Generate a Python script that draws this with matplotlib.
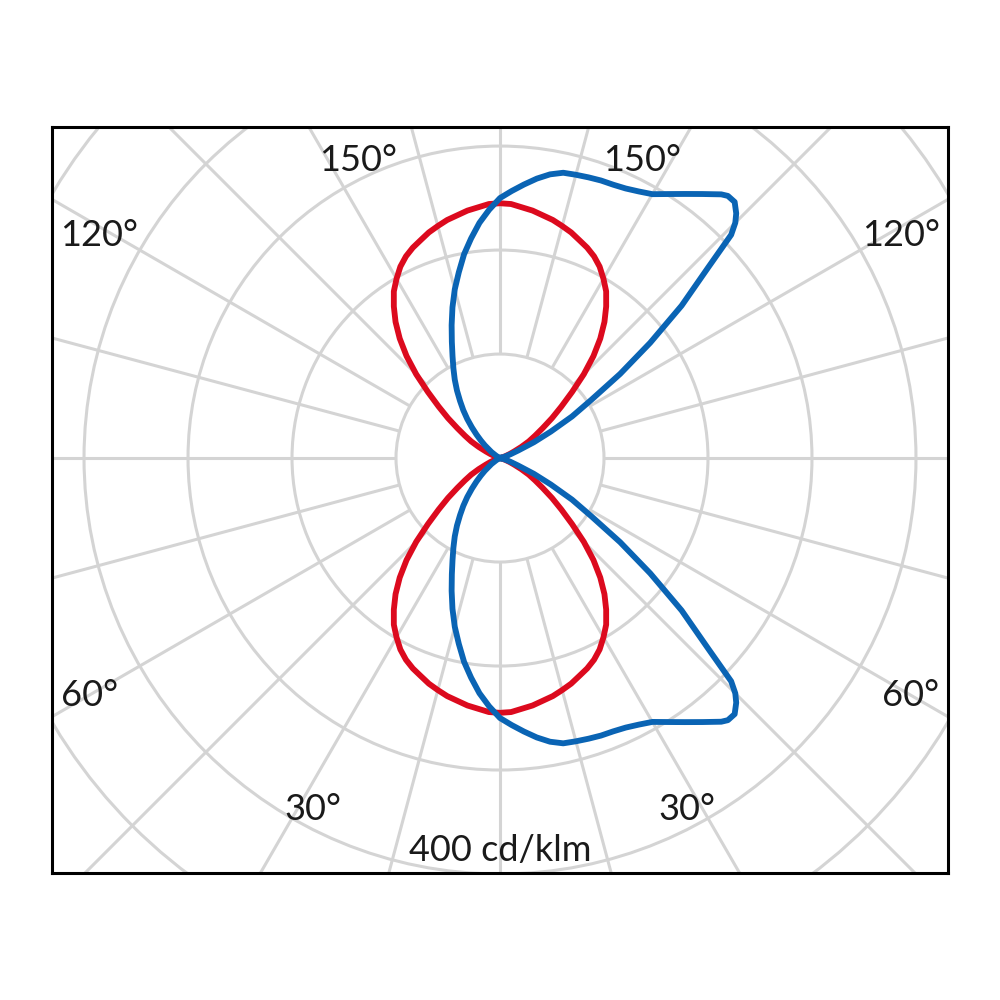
import numpy as np
import matplotlib
matplotlib.use('Agg')
import matplotlib.pyplot as plt
from matplotlib.patches import Circle

# Luminous intensity (cd/klm) vs. angle from nadir, lower half only;
# the upper half (90..180 deg) is the mirror image.
red_angles = [0, 2.5, 5, 7.5, 10, 12.5, 15, 17.5, 20, 22.5, 25, 27.5, 30, 32.5, 35, 37.5,
              40, 42.5, 45, 47.5, 50, 52.5, 55, 57.5, 60, 62.5, 65, 67.5, 70, 72.5, 75, 77.5,
              80, 85, 90]
red_values = [245, 244.5, 242, 240, 237, 234.5, 231, 227.5, 223, 219, 214, 207.5, 199, 190, 178, 165,
              150, 133, 114, 94, 77, 63, 50, 40, 32, 23, 15, 10, 6, 3.5, 2, 1,
              0, 0, 0]

# blue plane: positive angles = right side, negative = left side
blue_angles = [-90, -70, -65, -60, -55, -50, -47.5, -45, -42.5, -40, -37.5, -35, -32.5, -30,
               -27.5, -25, -22.5, -20, -17.5, -15, -12.5, -10, -7.5, -5, -2.5,
               0, 2.5, 5, 7.5, 10, 12.5, 15, 17.5, 20, 22.5, 25, 27.5, 30, 32.5, 35, 37.5,
               40, 41, 42.5, 44, 45, 46, 47.5, 50, 52.5, 55, 57.5, 60, 62.5, 65, 67.5, 70,
               72.5, 75, 80, 90]
blue_values = [0, 0, 1, 4, 10, 19, 25, 32, 40, 49, 58, 67, 77, 87,
               97, 108, 121, 136, 152, 168, 183, 199, 213, 227, 239,
               250, 257, 264, 271, 277, 281, 282, 283, 284, 284.5, 286, 289, 293, 301, 310, 320,
               331, 334, 334, 327, 320, 309, 272, 228, 182, 141, 104, 80, 55, 36, 19, 11,
               6, 3, 0, 0]

label_angles = [30, 60, 120, 150]
grid_radii = [100, 200, 300, 400, 500, 600, 700]
spoke_angles = np.arange(0, 360, 15)

RED = '#dc0a1e'
BLUE = '#0a64b4'
GRID = '#d4d4d4'


def to_xy(angles, values):
    g = np.radians(angles)
    v = np.asarray(values, dtype=float)
    return v * np.sin(g), -v * np.cos(g)


fig = plt.figure(figsize=(10, 10), dpi=100)
ax = fig.add_axes([0.052, 0.127, 0.896, 0.746])
ax.set_xlim(-430.8, 430.8)
ax.set_ylim(-399, 318.3)
ax.set_aspect('equal')
ax.set_xticks([])
ax.set_yticks([])
for s in ax.spines.values():
    s.set_linewidth(2.2)
    s.set_color('black')
    s.set_zorder(10)

# polar grid, spokes start at the first circle
for r in grid_radii:
    ax.add_patch(Circle((0, 0), r, fill=False, color=GRID, lw=2.2, zorder=1))
for a in spoke_angles:
    t = np.radians(a)
    ax.plot([100 * np.sin(t), 800 * np.sin(t)], [-100 * np.cos(t), -800 * np.cos(t)],
            color=GRID, lw=2.2, zorder=1, solid_capstyle='butt')

# red plane (symmetric left/right and top/bottom)
ang = np.concatenate([-np.array(red_angles[::-1]), red_angles[1:]])
val = np.concatenate([red_values[::-1], red_values[1:]])
x, y = to_xy(ang, val)
ax.plot(x, y, color=RED, lw=4.2, zorder=3, solid_joinstyle='round')
ax.plot(x, -y, color=RED, lw=4.2, zorder=3, solid_joinstyle='round')

# blue plane
x, y = to_xy(blue_angles, blue_values)
ax.plot(x, y, color=BLUE, lw=4.2, zorder=4, solid_joinstyle='round')
ax.plot(x, -y, color=BLUE, lw=4.2, zorder=4, solid_joinstyle='round')

# angle labels, placed a little off their own spokes as in the original
font = dict(family=['Lato', 'DejaVu Sans'], fontsize=26, color='#1a1a1a',
            ha='center', va='center')
label_pos = {30: (28, 383), 60: (60, 456), 120: (119, 441), 150: (154.4, 317)}
for a in label_angles:
    pa, pr = label_pos[a]
    for side in (-1, 1):
        lx, ly = to_xy(side * pa, pr)
        ax.text(lx, ly, f'{a}°', **font)

ax.text(0, -377, '400 cd/klm', **font)

fig.savefig('out.png', dpi=100)
